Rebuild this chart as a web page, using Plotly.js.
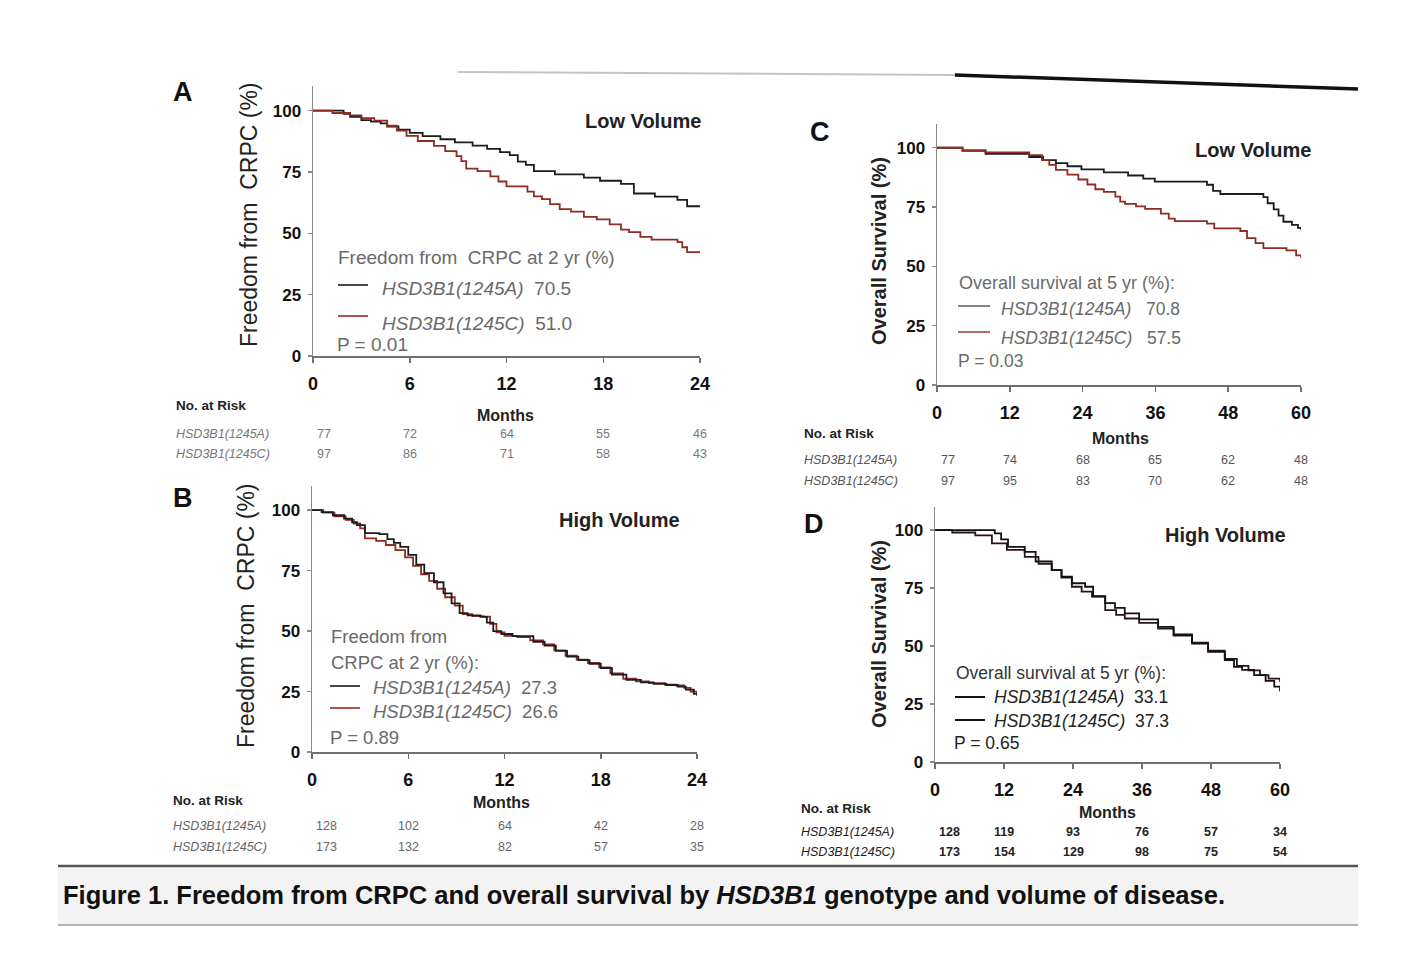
<!DOCTYPE html>
<html>
<head>
<meta charset="utf-8">
<script src="https://cdn.plot.ly/plotly-3.0.1.min.js"></script>
<style>
  html, body { margin: 0; padding: 0; background: #ffffff; }
  #chart { width: 1402px; height: 975px; }
</style>
</head>
<body>
<div id="chart"></div>
<script>
// ---- Kaplan-Meier step data (months, % event-free) ----
// A: freedom from CRPC, low volume
const monthsA_1245A = [0, 1.9, 2.3, 3.0, 3.6, 4.2, 4.6, 5.3, 6.0, 6.8, 7.9, 8.8, 9.9, 10.8, 11.6, 12.2, 12.7, 13.2, 13.7, 15.0, 16.8, 17.8, 19.1, 19.9, 21.2, 22.6, 23.2, 24];
const survA_1245A   = [100, 98.7, 97.4, 96.1, 95.5, 94.8, 93.5, 92.2, 90.9, 89.6, 88.3, 87.0, 85.7, 84.4, 83.1, 81.8, 79.2, 77.9, 75.3, 74.0, 72.7, 71.4, 70.1, 66.2, 64.9, 63.6, 61.0, 61.0];
const monthsA_1245C = [0, 1.2, 2.3, 3.0, 3.8, 4.6, 5.2, 5.8, 6.5, 7.5, 8.2, 8.9, 9.2, 9.5, 10.2, 11.0, 11.5, 12.0, 13.3, 13.7, 14.2, 14.7, 15.3, 16.0, 16.8, 17.6, 18.4, 19.1, 19.6, 20.3, 21.0, 22.6, 22.9, 23.2, 24];
const survA_1245C   = [100, 99.0, 98.0, 96.9, 95.9, 93.8, 91.8, 89.7, 87.6, 85.6, 83.5, 81.4, 79.4, 76.3, 75.3, 73.2, 71.1, 69.1, 67.0, 65.0, 63.9, 61.9, 59.8, 58.8, 56.7, 55.7, 53.6, 51.5, 50.5, 48.5, 47.4, 46.4, 44.3, 42.3, 42.3];

// B: freedom from CRPC, high volume
const monthsB_1245A = [0, 0.6, 1.3, 2.0, 2.5, 2.8, 3.3, 4.2, 4.7, 5.1, 5.5, 6.0, 6.5, 7.0, 7.6, 8.2, 8.7, 9.2, 9.7, 10.5, 10.9, 11.3, 11.8, 12.5, 13.8, 14.5, 15.2, 15.9, 16.6, 17.3, 18.0, 18.7, 19.6, 20.5, 21.3, 22.1, 22.8, 23.3, 23.8, 24];
const survB_1245A   = [100, 99.2, 97.9, 96.5, 95.0, 93.8, 90.5, 90.1, 88.0, 86.5, 84.8, 81.5, 77.5, 74.0, 70.2, 65.6, 61.5, 57.4, 56.5, 55.9, 53.5, 50.0, 48.8, 47.9, 45.6, 44.0, 41.8, 39.4, 38.0, 36.5, 34.7, 32.0, 29.8, 28.8, 28.2, 27.7, 27.0, 25.8, 24.0, 23.6];
const monthsB_1245C = [0, 0.7, 1.4, 2.1, 2.6, 3.0, 3.3, 4.0, 4.6, 5.2, 5.8, 6.3, 6.8, 7.3, 7.8, 8.3, 8.9, 9.4, 10.0, 10.7, 11.1, 11.5, 12.0, 12.8, 13.6, 14.4, 15.1, 15.8, 16.5, 17.2, 17.9, 18.6, 19.4, 20.2, 21.0, 22.0, 22.7, 23.2, 23.6, 24];
const survB_1245C   = [100, 99.0, 97.5, 96.0, 94.5, 92.5, 88.3, 87.3, 85.6, 83.5, 80.5, 77.0, 73.5, 70.8, 67.5, 64.0, 60.5, 57.0, 56.2, 56.0, 53.0, 49.5, 48.0, 47.5, 46.2, 44.5, 42.0, 39.8, 38.2, 36.8, 35.0, 32.5, 30.3, 29.2, 28.5, 27.8, 27.5, 26.5, 25.0, 23.3];

// C: overall survival, low volume
const monthsC_1245A = [0, 4.2, 8, 15.2, 17.5, 19.6, 21.5, 23.8, 27.5, 31.5, 34, 35.9, 44.5, 45.5, 46.7, 53.8, 54.5, 55.5, 56.3, 57.1, 58.5, 59.5, 60];
const survC_1245A   = [100, 98.7, 97.4, 96.1, 94.8, 93.5, 92.2, 90.9, 89.6, 88.3, 87.0, 85.7, 84.4, 81.8, 80.5, 79.2, 76.6, 74.0, 71.4, 68.8, 67.5, 66.2, 65.5];
const monthsC_1245C = [0, 4.2, 8, 15.2, 17.3, 18.5, 19.6, 21.5, 23.3, 24.8, 26.1, 27.5, 29.4, 30.2, 31.0, 32.8, 34.3, 36.9, 38.2, 39.2, 44.5, 45.7, 50.0, 51.1, 52.5, 53.8, 57.6, 59.2, 60];
const survC_1245C   = [100, 99.0, 98.0, 96.9, 94.8, 92.8, 90.7, 88.7, 86.6, 84.5, 82.5, 81.4, 79.4, 77.3, 76.3, 75.3, 74.2, 72.2, 70.1, 69.1, 68.0, 66.0, 64.9, 61.9, 59.8, 57.7, 56.7, 54.6, 53.6];

// D: overall survival, high volume
const monthsD_1245A = [0, 10.4, 11.5, 12.7, 15.6, 17.5, 20.3, 22.0, 23.8, 26.1, 27.5, 29.6, 31.3, 33.0, 35.5, 38.8, 41.5, 44.7, 47.5, 50.4, 52.0, 53.4, 55.5, 57.5, 59.0, 60];
const survD_1245A   = [100, 98.6, 96.0, 92.8, 90.6, 86.5, 82.8, 80.0, 77.1, 75.6, 71.5, 68.5, 66.5, 64.1, 61.5, 58.3, 55.0, 51.1, 47.5, 44.0, 41.0, 39.7, 37.5, 35.0, 32.5, 30.5];
const monthsD_1245C = [0, 3.0, 7.0, 9.9, 12.5, 15.6, 18.0, 20.3, 22.0, 23.8, 25.5, 27.3, 29.6, 31.5, 33.0, 35.5, 38.8, 41.5, 44.7, 47.5, 50.4, 52.5, 54.5, 56.5, 58.0, 60];
const survD_1245C   = [100, 99.0, 97.8, 94.3, 91.5, 88.5, 85.5, 82.8, 79.5, 75.6, 73.5, 71.3, 65.5, 63.5, 61.9, 60.0, 57.5, 54.5, 51.5, 48.0, 44.5, 41.5, 39.5, 37.5, 36.0, 34.6];

// ---- Axis ticks ----
const ticks24 = [0, 6, 12, 18, 24];
const ticks60 = [0, 12, 24, 36, 48, 60];
const yTicks = [0, 25, 50, 75, 100];

// ---- Number at risk ----
const riskA_1245A = [77, 72, 64, 55, 46];
const riskA_1245C = [97, 86, 71, 58, 43];
const riskB_1245A = [128, 102, 64, 42, 28];
const riskB_1245C = [173, 132, 82, 57, 35];
const riskC_1245A = [77, 74, 68, 65, 62, 48];
const riskC_1245C = [97, 95, 83, 70, 62, 48];
const riskD_1245A = [128, 119, 93, 76, 57, 34];
const riskD_1245C = [173, 154, 129, 98, 75, 54];

// ---- Legend texts ----
const legendHeadA = 'Freedom from&nbsp;&nbsp;CRPC at 2 yr (%)';
const legendHeadB = ['Freedom from', 'CRPC at 2 yr (%):'];
const legendHeadC = 'Overall survival at 5 yr (%):';
const legendHeadD = 'Overall survival at 5 yr (%):';
const rateA = ['70.5', '51.0'];
const rateB = ['27.3', '26.6'];
const rateC = ['70.8', '57.5'];
const rateD = ['33.1', '37.3'];
const pValues = ['0.01', '0.89', '0.03', '0.65'];
const genotypes = ['HSD3B1(1245A)', 'HSD3B1(1245C)'];

// ---- Page geometry helpers (pixel -> paper) ----
const W = 1402, H = 975;
const PX = p => p / W;
const PY = p => 1 - p / H;

const FONT = 'Liberation Sans, Arial, sans-serif';
const BLACK = '#1c1c1c';
const RED = '#8e2b22';
const GREY_TXT = '#6a6a6a';

// Panel rectangles in pixels: left, right, y(0), y(110)
const boxes = {
  A: {l: 313, r: 700, b: 356, t: 86},
  B: {l: 312, r: 697, b: 752, t: 486},
  C: {l: 937, r: 1301, b: 385, t: 124},
  D: {l: 935, r: 1280, b: 762, t: 507}
};

function xAxis(box, ticks, anchor) {
  return {
    domain: [PX(box.l), PX(box.r)], anchor: anchor, range: [0, ticks[ticks.length - 1]],
    tickvals: ticks, ticktext: ticks.map(String),
    showgrid: false, zeroline: false, showline: true, linecolor: '#6f6f6f', linewidth: 1.5,
    ticks: 'outside', ticklen: 5, tickwidth: 1.5, tickcolor: '#6f6f6f', ticklabelstandoff: 6,
    tickfont: {family: FONT, size: 18, color: '#111', weight: 'bold'}, fixedrange: true
  };
}
function yAxis(box, anchor) {
  return {
    domain: [PY(box.b), PY(box.t)], anchor: anchor, range: [0, 110],
    tickvals: yTicks, ticktext: yTicks.map(String),
    showgrid: false, zeroline: false, showline: true, linecolor: '#8a8a8a', linewidth: 1.5,
    ticks: 'outside', ticklen: 4, tickwidth: 1.5, tickcolor: '#8a8a8a', ticklabelstandoff: 3,
    tickfont: {family: FONT, size: 17, color: '#111', weight: 'bold'}, fixedrange: true
  };
}

function curve(x, y, xa, ya, color, name) {
  return {x: x, y: y, xaxis: xa, yaxis: ya, type: 'scatter', mode: 'lines', name: name,
          line: {shape: 'hv', color: color, width: 1.8}, hoverinfo: 'skip'};
}

const traces = [
  curve(monthsA_1245A, survA_1245A, 'x', 'y', BLACK, genotypes[0]),
  curve(monthsA_1245C, survA_1245C, 'x', 'y', RED, genotypes[1]),
  curve(monthsB_1245C, survB_1245C, 'x2', 'y2', RED, genotypes[1]),
  curve(monthsB_1245A, survB_1245A, 'x2', 'y2', BLACK, genotypes[0]),
  curve(monthsC_1245A, survC_1245A, 'x3', 'y3', BLACK, genotypes[0]),
  curve(monthsC_1245C, survC_1245C, 'x3', 'y3', RED, genotypes[1]),
  curve(monthsD_1245C, survD_1245C, 'x4', 'y4', '#2b1512', genotypes[1]),
  curve(monthsD_1245A, survD_1245A, 'x4', 'y4', '#111111', genotypes[0])
];

const annotations = [];
const shapes = [];

function text(x, y, t, opts) {
  annotations.push(Object.assign({
    xref: 'paper', yref: 'paper', x: PX(x), y: PY(y), text: t, showarrow: false,
    xanchor: 'left', yanchor: 'middle',
    font: {family: FONT, size: 16, color: GREY_TXT}
  }, opts || {}));
}
function seg(x0, y0, x1, y1, color, width) {
  shapes.push({type: 'line', xref: 'paper', yref: 'paper', x0: PX(x0), y0: PY(y0), x1: PX(x1), y1: PY(y1),
               line: {color: color, width: width}});
}
const bold = (s, c) => ({family: FONT, size: s, color: c || '#111', weight: 'bold'});
const plain = (s, c) => ({family: FONT, size: s, color: c || GREY_TXT});

// Panel letters
text(171, 92, 'A', {font: bold(27)});
text(171, 498, 'B', {font: bold(27)});
text(808, 132, 'C', {font: bold(27)});
text(802, 524, 'D', {font: bold(27)});

// Panel titles
text(643, 121, 'Low Volume', {xanchor: 'center', font: bold(20, '#222')});
text(619, 520, 'High Volume', {xanchor: 'center', font: bold(20, '#222')});
text(1253, 150, 'Low Volume', {xanchor: 'center', font: bold(20, '#222')});
text(1225, 535, 'High Volume', {xanchor: 'center', font: bold(20, '#222')});

// Y axis titles
text(249, 214, 'Freedom from&nbsp;&nbsp;CRPC (%)', {xanchor: 'center', textangle: -90, font: plain(23, '#222')});
text(246, 616, 'Freedom from&nbsp;&nbsp;CRPC (%)', {xanchor: 'center', textangle: -90, font: plain(23, '#222')});
text(879, 251, 'Overall Survival (%)', {xanchor: 'center', textangle: -90, font: bold(20, '#222')});
text(879, 634, 'Overall Survival (%)', {xanchor: 'center', textangle: -90, font: bold(20, '#222')});

// X axis titles
text(505, 415, 'Months', {xanchor: 'center', font: bold(16, '#222')});
text(502, 802, 'Months', {xanchor: 'center', font: bold(16, '#222')});
text(1120, 438, 'Months', {xanchor: 'center', font: bold(16, '#222')});
text(1107, 812, 'Months', {xanchor: 'center', font: bold(16, '#222')});

// In-plot legends
const gene = (g, v, gap) => '<i>' + g + '</i>' + '&nbsp;'.repeat(gap || 2) + v;
// A
text(336, 257, legendHeadA, {font: plain(19)});
seg(338, 285, 368, 285, '#333', 1.8);
text(380, 288, gene(genotypes[0], rateA[0]), {font: plain(19)});
seg(338, 316, 368, 316, '#a8463c', 1.8);
text(380, 323, gene(genotypes[1], rateA[1]), {font: plain(19)});
text(335, 344, 'P = ' + pValues[0], {font: plain(19)});
// B
text(329, 636, legendHeadB[0], {font: plain(18.5)});
text(329, 662, legendHeadB[1], {font: plain(18.5)});
seg(330, 686, 360, 686, '#333', 1.8);
text(371, 687, gene(genotypes[0], rateB[0]), {font: plain(18.5)});
seg(330, 708, 360, 708, '#a8463c', 1.8);
text(371, 711, gene(genotypes[1], rateB[1]), {font: plain(18.5)});
text(328, 737, 'P = ' + pValues[1], {font: plain(18.5)});
// C
text(957, 283, legendHeadC, {font: plain(18)});
seg(958, 306, 990, 306, '#777', 1.8);
text(999, 309, gene(genotypes[0], rateC[0], 3), {font: plain(17.5)});
seg(958, 332, 990, 332, '#b5584e', 1.8);
text(999, 338, gene(genotypes[1], rateC[1], 3), {font: plain(17.5)});
text(956, 361, 'P = ' + pValues[2], {font: plain(17.5)});
// D
text(954, 673, legendHeadD, {font: plain(17.5, '#333')});
seg(955, 697, 985, 697, '#111', 2);
text(992, 697, gene(genotypes[0], rateD[0]), {font: plain(17.5, '#222')});
seg(955, 720, 985, 720, '#111', 2);
text(992, 721, gene(genotypes[1], rateD[1]), {font: plain(17.5, '#222')});
text(952, 743, 'P = ' + pValues[3], {font: plain(17.5, '#222')});

// Number-at-risk tables, columns placed on the month axis
function riskTable(xref, ticks, rows, labelX, headY, rowY, color, bolder) {
  text(labelX, headY, 'No. at Risk', {font: bold(13.5, '#222')});
  rows.forEach((vals, r) => {
    text(labelX, rowY[r], '<i>' + genotypes[r] + '</i>', {font: plain(12.5, color)});
    vals.forEach((v, i) => {
      annotations.push({
        xref: xref, yref: 'paper', x: ticks[i], y: PY(rowY[r]), text: String(v), showarrow: false,
        xanchor: i === 0 ? 'left' : 'center', yanchor: 'middle', xshift: i === 0 ? 2 : 0,
        font: {family: FONT, size: 12.5, color: color, weight: bolder ? 'bold' : 'normal'}
      });
    });
  });
}
riskTable('x', ticks24, [riskA_1245A, riskA_1245C], 174, 405, [434, 454], '#777', false);
riskTable('x2', ticks24, [riskB_1245A, riskB_1245C], 171, 800, [826, 847], '#666', false);
riskTable('x3', ticks60, [riskC_1245A, riskC_1245C], 802, 433, [460, 481], '#555', false);
riskTable('x4', ticks60, [riskD_1245A, riskD_1245C], 799, 808, [832, 852], '#222', true);

// Caption band and rules
shapes.push({type: 'rect', xref: 'paper', yref: 'paper', x0: PX(58), x1: PX(1358), y0: PY(924), y1: PY(868),
             fillcolor: '#f3f3f3', line: {width: 0}, layer: 'below'});
seg(58, 866, 1358, 866, '#555', 2.5);
seg(58, 925, 1358, 925, '#9a9a9a', 1.5);
seg(458, 72, 955, 75, '#c4c4c4', 2);
seg(955, 75, 1358, 89, '#111', 3.5);
text(61, 895, '<b>Figure 1. Freedom from CRPC and overall survival by <i>HSD3B1</i> genotype and volume of disease.</b>',
     {font: {family: FONT, size: 25.5, color: '#111'}});

const layout = {
  width: W, height: H, margin: {l: 0, r: 0, t: 0, b: 0},
  paper_bgcolor: '#ffffff', plot_bgcolor: 'rgba(0,0,0,0)', showlegend: false,
  xaxis: xAxis(boxes.A, ticks24, 'y'), yaxis: yAxis(boxes.A, 'x'),
  xaxis2: xAxis(boxes.B, ticks24, 'y2'), yaxis2: yAxis(boxes.B, 'x2'),
  xaxis3: xAxis(boxes.C, ticks60, 'y3'), yaxis3: yAxis(boxes.C, 'x3'),
  xaxis4: xAxis(boxes.D, ticks60, 'y4'), yaxis4: yAxis(boxes.D, 'x4'),
  annotations: annotations, shapes: shapes
};

Plotly.newPlot('chart', traces, layout, {staticPlot: true, displayModeBar: false});
</script>
</body>
</html>
